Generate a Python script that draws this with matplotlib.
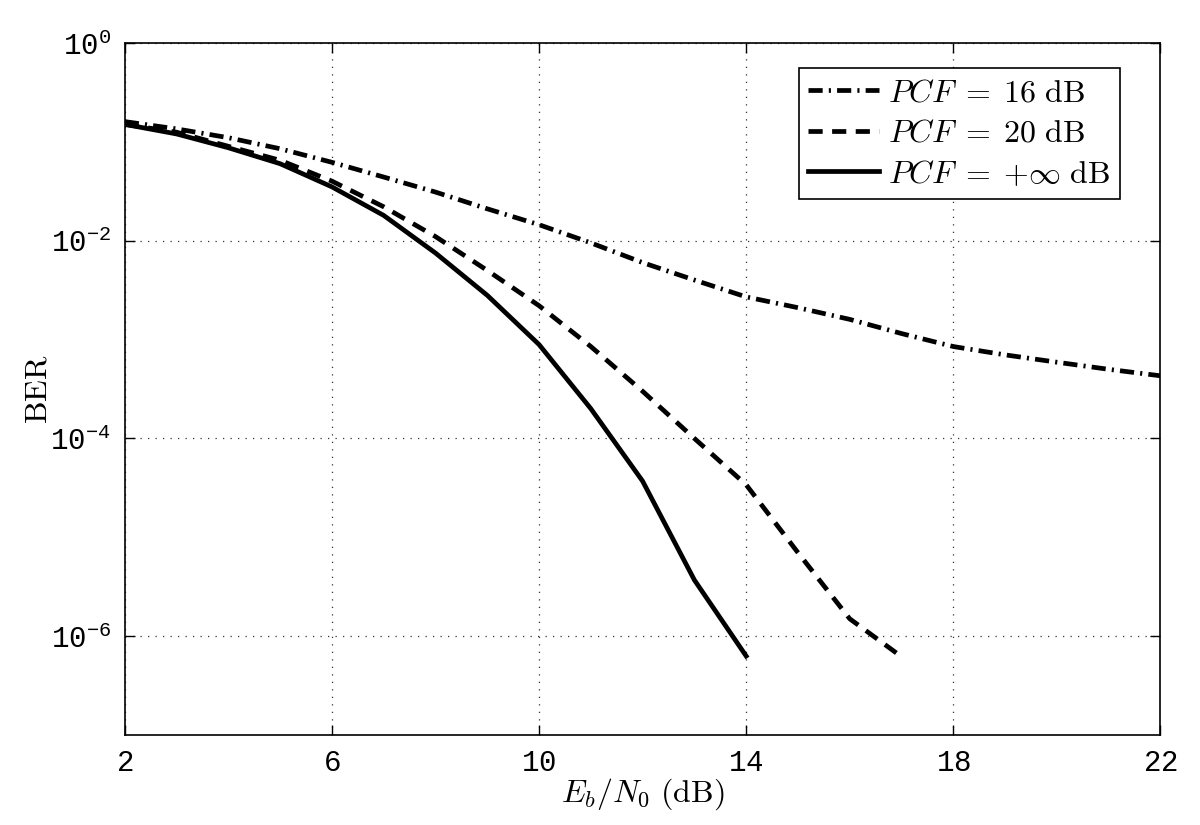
import numpy as np
import matplotlib
matplotlib.use('Agg')
import matplotlib.pyplot as plt

plt.rcParams['mathtext.fontset'] = 'cm'
# typewriter-like face for the tick labels (used through math_fontfamily='custom')
plt.rcParams['mathtext.rm'] = 'Liberation Mono'
plt.rcParams['mathtext.it'] = 'Liberation Mono'

# Eb/N0 (dB) and BER values
ebn0_16 = [2, 3, 4, 5, 6, 7, 8, 9, 10, 11, 12, 13, 14, 15, 16, 17, 18, 19, 20, 21, 22]
ber_16 = [0.16, 0.135, 0.11, 0.085, 0.062, 0.044, 0.031, 0.021, 0.0145, 0.0095, 0.006,
          0.004, 0.0027, 0.0021, 0.0016, 0.00115, 0.00085, 0.0007, 0.00059, 0.0005, 0.00043]

ebn0_20 = [2, 3, 4, 5, 6, 7, 8, 9, 10, 11, 12, 13, 14, 15, 16, 17]
ber_20 = [0.15, 0.125, 0.09, 0.065, 0.04, 0.022, 0.011, 0.005, 0.0022, 8.5e-4, 3e-4,
          1e-4, 3.4e-5, 7e-6, 1.5e-6, 6.2e-7]

ebn0_inf = [2, 3, 4, 5, 6, 7, 8, 9, 10, 11, 12, 13, 14]
ber_inf = [0.15, 0.12, 0.087, 0.06, 0.035, 0.018, 0.0075, 0.0028, 8.9e-4, 2e-4, 3.7e-5,
           3.7e-6, 6.3e-7]

xticks = [2, 6, 10, 14, 18, 22]
yticks = [1e-6, 1e-4, 1e-2, 1e0]
labels = [r'$PCF\;=\;16\ \mathrm{dB}$', r'$PCF\;=\;20\ \mathrm{dB}$',
          r'$PCF\;=\;{+}\infty\ \mathrm{dB}$']

fig = plt.figure(figsize=(12, 8.25), dpi=100)
ax = fig.add_axes([0.104, 0.109, 0.863, 0.839])

lw = 3.4
ax.semilogy(ebn0_16, ber_16, color='black', lw=lw, dashes=(3.0, 1.3, 0.45, 1.3), label=labels[0])
ax.semilogy(ebn0_20, ber_20, color='black', lw=lw, dashes=(3.0, 2.0), label=labels[1])
ax.semilogy(ebn0_inf, ber_inf, color='black', lw=lw, label=labels[2])

ax.set_xlim(2, 22)
ax.set_ylim(1e-7, 1)
ax.set_xticks(xticks)
ax.set_xticklabels(['$%d$' % t for t in xticks])
ax.set_yticks(yticks)
ax.set_yticklabels(['$10^{%d}$' % int(np.log10(t)) for t in yticks])
for t in ax.get_xticklabels() + ax.get_yticklabels():
    t.set_math_fontfamily('custom')
ax.minorticks_off()
ax.tick_params(axis='both', which='major', direction='in', length=7, width=1,
               labelsize=21, top=True, right=True, pad=10)
for s in ax.spines.values():
    s.set_linewidth(1.2)

ax.grid(True, which='major', linestyle=(0, (1, 5)), color='#333333', linewidth=0.9)

ax.set_xlabel(r'$E_b/N_0\ (\mathrm{dB})$', fontsize=23, labelpad=0)
ax.set_ylabel(r'$\mathrm{BER}$', fontsize=23, labelpad=-2)

leg = ax.legend(loc='upper right', bbox_to_anchor=(0.961, 0.964), borderaxespad=0,
                fontsize=23, handlelength=2.2, handletextpad=0.3, labelspacing=0.3,
                borderpad=0.3, fancybox=False, framealpha=1, edgecolor='black')
leg.get_frame().set_linewidth(1.2)

fig.savefig('out.png', dpi=100)
